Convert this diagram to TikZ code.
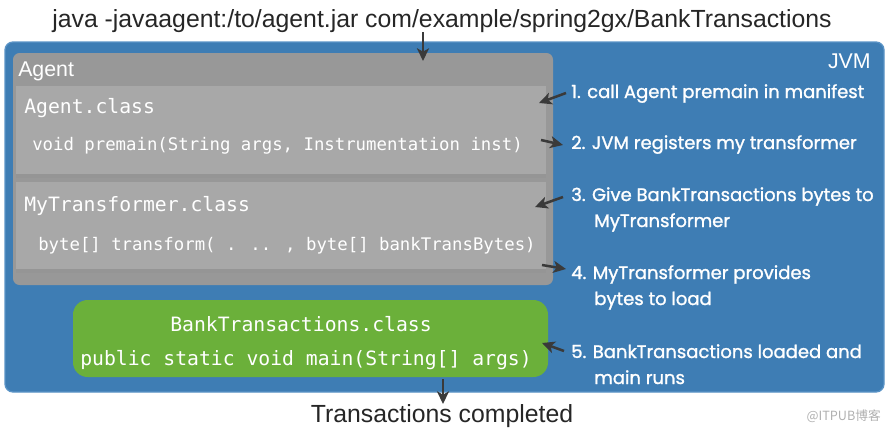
\documentclass[tikz,border=0pt]{standalone}
\usepackage{fontspec}
\setmainfont{Liberation Sans}
\newfontfamily\monof{DejaVu Sans Mono}
\newfontfamily\futf[FakeBold=1.3]{Poppins}
\newfontfamily\cjk{Noto Sans CJK SC}
\usetikzlibrary{arrows.meta}
\definecolor{jvmblue}{HTML}{3E7DB4}
\definecolor{jvmedge}{HTML}{5A93C6}
\definecolor{agentgray}{HTML}{989898}
\definecolor{innergray}{HTML}{A8A8A8}
\definecolor{innershade}{HTML}{959595}
\definecolor{classgreen}{HTML}{6BB03A}
\definecolor{arrowgray}{HTML}{3A3A3A}
\definecolor{wmgray}{HTML}{B0B0B0}
\tikzset{
  conn/.style={draw=arrowgray, line width=1.9pt, -{Stealth[length=9.5pt,width=9pt,inset=2.5pt]}},
  toptext/.style={font=\fontsize{18.6}{22}\selectfont, text=black!85, inner sep=0pt},
  lbl/.style={font=\fontsize{16}{19}\selectfont, text=white, inner sep=0pt},
  monobig/.style={font=\monof\fontsize{14.8}{17}\selectfont, text=white, inner sep=0pt},
  monosmall/.style={font=\monof\fontsize{13}{15}\selectfont, text=white, inner sep=0pt},
  steptext/.style={font=\futf\fontsize{13.5}{19.5}\selectfont, text=white, inner sep=0pt, align=left},
}
\begin{document}
\begin{tikzpicture}[x=0.75pt,y=-0.75pt]
\useasboundingbox (0,0) rectangle (889,432);
% JVM box
\path[fill=jvmblue, draw=jvmedge, line width=1pt, rounded corners=6pt] (5,42) rectangle (884,392);
\node[lbl, anchor=base east] (jvm) at (871,68) {JVM};
% Agent box
\path[fill=agentgray, rounded corners=5pt] (13,53) rectangle (553,285);
\node[lbl, anchor=base west] (agent) at (18,76) {Agent};
% inner boxes
\path[fill=innershade] (16,86) rectangle (546,178);
\path[fill=innergray] (16,86) rectangle (546,174);
\path[fill=innershade] (16,182) rectangle (546,273);
\path[fill=innergray] (16,182) rectangle (546,269);
\node[monobig, anchor=base west] (agentclass) at (24,113) {Agent.class};
\node[monosmall, anchor=base west] (premain) at (32,150) {void premain(String args, Instrumentation inst)};
\node[monobig, anchor=base west] (mytrans) at (24,211) {MyTransformer.class};
\node[monosmall, anchor=base west] (transform) at (38,250) {byte[] transform( . .. , byte[] bankTransBytes)};
% green box
\path[fill=classgreen, rounded corners=11pt] (73,300) rectangle (548,377);
\node[monobig, anchor=base] (bank) at (301,331) {BankTransactions.class};
\node[monobig, anchor=base] (mainm) at (306,365) {public static void main(String[] args)};
% step texts
\node[steptext, anchor=base west] (s1) at (571,98) {1. call Agent premain in manifest};
\node[steptext, anchor=base west] (s2) at (571,149) {2. JVM registers my transformer};
\node[steptext, anchor=base west] (s3) at (571,227) {3. Give BankTransactions bytes to\\\hspace*{17.3pt}MyTransformer};
\node[steptext, anchor=base west] (s4) at (571,305) {4. MyTransformer provides\\\hspace*{17.3pt}bytes to load};
\node[steptext, anchor=base west] (s5) at (571,384) {5. BankTransactions loaded and\\\hspace*{17.3pt}main runs};
% top / bottom texts
\node[toptext, anchor=base] (cmd) at (442,27) {java -javaagent:/to/agent.jar com/example/spring2gx/BankTransactions};
\node[toptext, anchor=base] (done) at (442,422) {Transactions completed};
\node[font=\cjk\fontsize{9.5}{11}\selectfont, text=wmgray, inner sep=0pt, anchor=base east] (wm) at (881,420) {@ITPUB博客};
% connector coordinates
\coordinate (c0a) at (423,32); \coordinate (c0b) at (423,61);
\coordinate (c1a) at (566,93); \coordinate (c1b) at (539,103);
\coordinate (c2a) at (541,140); \coordinate (c2b) at (563,145);
\coordinate (c3a) at (563,197); \coordinate (c3b) at (535,207);
\coordinate (c4a) at (542,265); \coordinate (c4b) at (566,269);
\coordinate (c5a) at (564,351); \coordinate (c5b) at (542,343);
\coordinate (c6a) at (443,379); \coordinate (c6b) at (443,404);
\draw[conn] (c0a) -- (c0b);
\draw[conn] (c1a) -- (c1b);
\draw[conn] (c2a) -- (c2b);
\draw[conn] (c3a) -- (c3b);
\draw[conn] (c4a) -- (c4b);
\draw[conn] (c5a) -- (c5b);
\draw[conn] (c6a) -- (c6b);
\end{tikzpicture}
\end{document}
